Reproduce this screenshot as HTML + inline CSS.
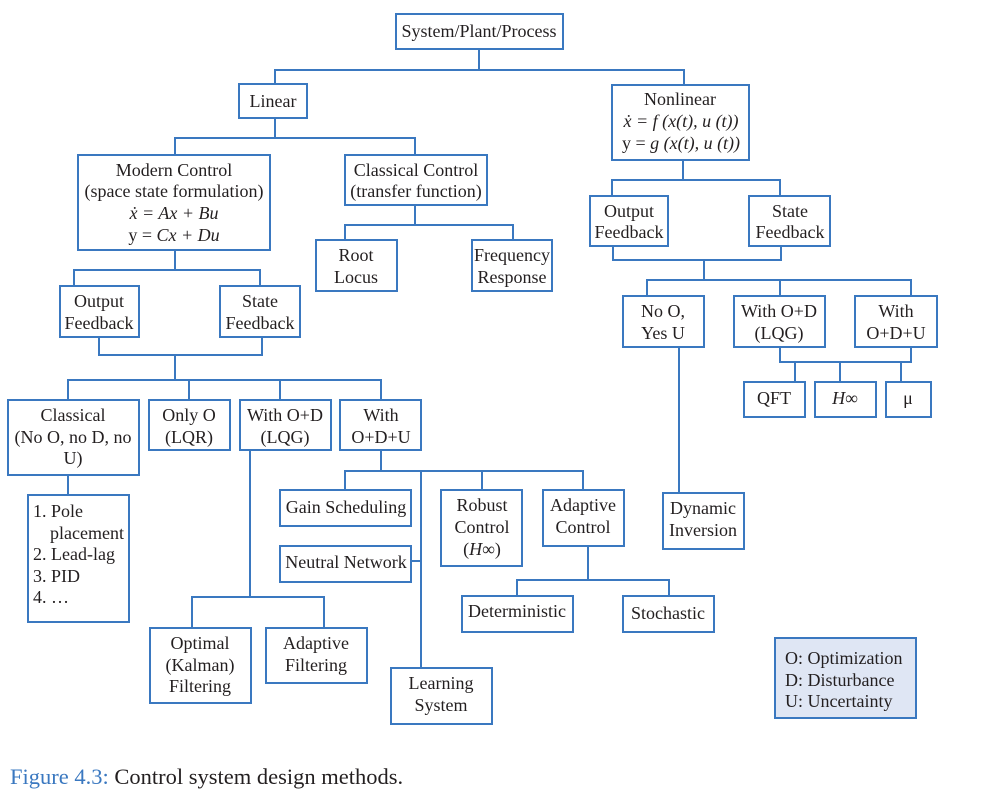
<!DOCTYPE html>
<html><head><meta charset="utf-8"><style>
html,body{margin:0;padding:0;background:#fff;}
svg{display:block;}
text{font-family:"Liberation Serif",serif;font-size:18px;fill:#231f20;}
.b{fill:#fff;stroke:#3a78c0;stroke-width:2;}
.l{stroke:#3a78c0;stroke-width:2;fill:none;}
</style></head><body>
<svg width="992" height="807" viewBox="0 0 992 807" xmlns="http://www.w3.org/2000/svg">
<path class="l" d="M479,49V70M275,84V70H684V85"/>
<path class="l" d="M275,118V138M175,155V138H415V155"/>
<path class="l" d="M175,250V270M74,286V270H260V286"/>
<path class="l" d="M415,205V225M345,240V225H513V240"/>
<path class="l" d="M683,160V180M612,196V180H780V196"/>
<path class="l" d="M613,246V260H781V246M704,260V280M647,296V280H911V296M780,280V296"/>
<path class="l" d="M780,347V362H911V347M795,362V382M840,362V382M901,362V382"/>
<path class="l" d="M679,347V493"/>
<path class="l" d="M99,337V355H262V337M175,355V380M68,400V380H381V400M189,380V400M280,380V400"/>
<path class="l" d="M68,475V495"/>
<path class="l" d="M250,450V597M192,628V597H324V628"/>
<path class="l" d="M381,450V471M345,490V471H583V490M482,471V490M421,471V668M411,561H421"/>
<path class="l" d="M588,546V580M517,596V580H669V596"/>
<rect class="b" x="396" y="14" width="167" height="35"/>
<text x="479" y="37" text-anchor="middle">System/Plant/Process</text>
<rect class="b" x="239" y="84" width="68" height="34"/>
<text x="273" y="107" text-anchor="middle">Linear</text>
<rect class="b" x="612" y="85" width="137" height="75"/>
<text x="680" y="105" text-anchor="middle">Nonlinear</text>
<text x="681" y="127" text-anchor="middle" font-style="italic">ẋ = f (x(t), u (t))</text>
<text x="681" y="149" text-anchor="middle"><tspan>y = </tspan><tspan font-style="italic">g (x(t), u (t))</tspan></text>
<rect class="b" x="78" y="155" width="192" height="95"/>
<text x="174" y="176" text-anchor="middle">Modern Control</text>
<text x="174" y="197" text-anchor="middle">(space state formulation)</text>
<text x="174" y="219" text-anchor="middle" font-style="italic">ẋ = Ax + Bu</text>
<text x="174" y="241" text-anchor="middle"><tspan>y = </tspan><tspan font-style="italic">Cx + Du</tspan></text>
<rect class="b" x="345" y="155" width="142" height="50"/>
<text x="416" y="176" text-anchor="middle">Classical Control</text>
<text x="416" y="197" text-anchor="middle">(transfer function)</text>
<rect class="b" x="316" y="240" width="81" height="51"/>
<text x="356" y="261" text-anchor="middle">Root</text>
<text x="356" y="283" text-anchor="middle">Locus</text>
<rect class="b" x="472" y="240" width="80" height="51"/>
<text x="512" y="261" text-anchor="middle">Frequency</text>
<text x="512" y="283" text-anchor="middle">Response</text>
<rect class="b" x="60" y="286" width="79" height="51"/>
<text x="99" y="307" text-anchor="middle">Output</text>
<text x="99" y="329" text-anchor="middle">Feedback</text>
<rect class="b" x="220" y="286" width="80" height="51"/>
<text x="260" y="307" text-anchor="middle">State</text>
<text x="260" y="329" text-anchor="middle">Feedback</text>
<rect class="b" x="590" y="196" width="78" height="50"/>
<text x="629" y="217" text-anchor="middle">Output</text>
<text x="629" y="238" text-anchor="middle">Feedback</text>
<rect class="b" x="749" y="196" width="81" height="50"/>
<text x="790" y="217" text-anchor="middle">State</text>
<text x="790" y="238" text-anchor="middle">Feedback</text>
<rect class="b" x="623" y="296" width="81" height="51"/>
<text x="663" y="317" text-anchor="middle">No O,</text>
<text x="663" y="339" text-anchor="middle">Yes U</text>
<rect class="b" x="734" y="296" width="91" height="51"/>
<text x="779" y="317" text-anchor="middle">With O+D</text>
<text x="779" y="339" text-anchor="middle">(LQG)</text>
<rect class="b" x="855" y="296" width="82" height="51"/>
<text x="896" y="317" text-anchor="middle">With</text>
<text x="896" y="339" text-anchor="middle">O+D+U</text>
<rect class="b" x="744" y="382" width="61" height="35"/>
<text x="774" y="404" text-anchor="middle">QFT</text>
<rect class="b" x="815" y="382" width="61" height="35"/>
<text x="845" y="404" text-anchor="middle"><tspan font-style="italic">H</tspan>∞</text>
<rect class="b" x="886" y="382" width="45" height="35"/>
<text x="908" y="404" text-anchor="middle">μ</text>
<rect class="b" x="8" y="400" width="131" height="75"/>
<text x="73" y="421" text-anchor="middle">Classical</text>
<text x="73" y="443" text-anchor="middle">(No O, no D, no</text>
<text x="73" y="464" text-anchor="middle">U)</text>
<rect class="b" x="149" y="400" width="81" height="50"/>
<text x="189" y="421" text-anchor="middle">Only O</text>
<text x="189" y="443" text-anchor="middle">(LQR)</text>
<rect class="b" x="240" y="400" width="91" height="50"/>
<text x="285" y="421" text-anchor="middle">With O+D</text>
<text x="285" y="443" text-anchor="middle">(LQG)</text>
<rect class="b" x="340" y="400" width="81" height="50"/>
<text x="381" y="421" text-anchor="middle">With</text>
<text x="381" y="443" text-anchor="middle">O+D+U</text>
<rect class="b" x="28" y="495" width="101" height="127"/>
<text x="33" y="517">1. Pole</text>
<text x="50" y="539">placement</text>
<text x="33" y="560">2. Lead-lag</text>
<text x="33" y="582">3. PID</text>
<text x="33" y="603">4. …</text>
<rect class="b" x="280" y="490" width="131" height="36"/>
<text x="346" y="513" text-anchor="middle">Gain Scheduling</text>
<rect class="b" x="280" y="546" width="131" height="36"/>
<text x="346" y="568" text-anchor="middle">Neutral Network</text>
<rect class="b" x="441" y="490" width="81" height="76"/>
<text x="482" y="511" text-anchor="middle">Robust</text>
<text x="482" y="533" text-anchor="middle">Control</text>
<text x="482" y="555" text-anchor="middle">(<tspan font-style="italic">H</tspan>∞)</text>
<rect class="b" x="543" y="490" width="81" height="56"/>
<text x="583" y="511" text-anchor="middle">Adaptive</text>
<text x="583" y="533" text-anchor="middle">Control</text>
<rect class="b" x="462" y="596" width="111" height="36"/>
<text x="517" y="617" text-anchor="middle">Deterministic</text>
<rect class="b" x="623" y="596" width="91" height="36"/>
<text x="668" y="619" text-anchor="middle">Stochastic</text>
<rect class="b" x="663" y="493" width="81" height="56"/>
<text x="703" y="514" text-anchor="middle">Dynamic</text>
<text x="703" y="536" text-anchor="middle">Inversion</text>
<rect class="b" x="150" y="628" width="101" height="75"/>
<text x="200" y="649" text-anchor="middle">Optimal</text>
<text x="200" y="671" text-anchor="middle">(Kalman)</text>
<text x="200" y="692" text-anchor="middle">Filtering</text>
<rect class="b" x="266" y="628" width="101" height="55"/>
<text x="316" y="649" text-anchor="middle">Adaptive</text>
<text x="316" y="671" text-anchor="middle">Filtering</text>
<rect class="b" x="391" y="668" width="101" height="56"/>
<text x="441" y="689" text-anchor="middle">Learning</text>
<text x="441" y="711" text-anchor="middle">System</text>
<rect x="775" y="638" width="141" height="80" fill="#dfe6f4" stroke="#3a78c0" stroke-width="2"/>
<text x="785" y="664">O: Optimization</text>
<text x="785" y="686">D: Disturbance</text>
<text x="785" y="707">U: Uncertainty</text>
<text x="10" y="784" style="font-size:22.5px"><tspan style="fill:#3a78c0">Figure 4.3:</tspan> Control system design methods.</text>
</svg>
</body></html>
